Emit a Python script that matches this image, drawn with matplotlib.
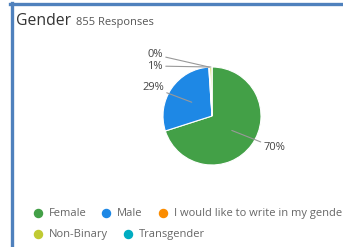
import matplotlib
matplotlib.use("Agg")
import numpy as np
import matplotlib.pyplot as plt
from matplotlib.lines import Line2D

plt.rcParams['font.family'] = ['Open Sans', 'DejaVu Sans']

# data
categories = ['Female', 'Male', 'I would like to write in my gender', 'Non-Binary', 'Transgender']
counts = [599, 247, 3, 6, 0]
colors = ['#43a047', '#1e88e5', '#fb8c00', '#c0ca33', '#00acc1']
title = 'Gender'
subtitle = '855 Responses'

W, H = 343, 247
fig = plt.figure(figsize=(W / 100, H / 100), dpi=100)
fig.patch.set_facecolor('white')

def fx(px):
    return px / W

def fy(py):
    return 1 - py / H

# blue frame (top and left)
border = '#4f81bd'
fig.add_artist(Line2D([fx(10), fx(W)], [fy(4.5), fy(4.5)], color=border, lw=2.4,
                      transform=fig.transFigure))
fig.add_artist(Line2D([fx(11.5), fx(11.5)], [fy(3.3), fy(H)], color=border, lw=2.4,
                      transform=fig.transFigure))

fig.text(fx(16), fy(25), title, fontsize=11.3, color='#333333', va='baseline')
fig.text(fx(76), fy(25), subtitle, fontsize=8, color='#555555', va='baseline')

# pie
cx, cy, r = 212, 116, 49
ax = fig.add_axes([fx(cx - r), fy(cy + r), 2 * r / W, 2 * r / H])
wedges, _ = ax.pie(counts, colors=colors, startangle=90, counterclock=False,
                   wedgeprops=dict(edgecolor='white', linewidth=0.8))
ax.set_xlim(-1, 1)
ax.set_ylim(-1, 1)
ax.set_aspect('equal')
ax.axis('off')

# label positions (data coords of the pie, radius = 1)
total = sum(counts)
label_pos = {0: (1.05, -0.64), 1: (-0.98, 0.58), 2: (-1.0, 1.25), 3: (-1.0, 1.02)}
for i, w in enumerate(wedges):
    if i not in label_pos:
        continue
    pct = round(100 * counts[i] / total)
    ang = np.deg2rad((w.theta1 + w.theta2) / 2)
    rr = 0.5 if counts[i] / total > 0.05 else 1.0
    xy = (rr * np.cos(ang), rr * np.sin(ang))
    tx, ty = label_pos[i]
    ha = 'left' if tx > 0 else 'right'
    ax.annotate(f'{pct}%', xy=xy, xytext=(tx, ty), ha=ha, va='center',
                fontsize=8, color='#444444', annotation_clip=False,
                arrowprops=dict(arrowstyle='-', color='#999999', lw=0.8,
                                shrinkA=0, shrinkB=0))

# legend, flowing layout
legend_pos = [(38, 213), (106, 213), (163, 213), (38, 234), (128, 234)]
for (px, py), name, c in zip(legend_pos, categories, colors):
    fig.add_artist(Line2D([fx(px)], [fy(py)], marker='o', markersize=5.8,
                          color=c, transform=fig.transFigure))
    fig.text(fx(px + 11), fy(py), name, fontsize=8, color='#666666', va='center')

fig.savefig('out.png', dpi=100)
